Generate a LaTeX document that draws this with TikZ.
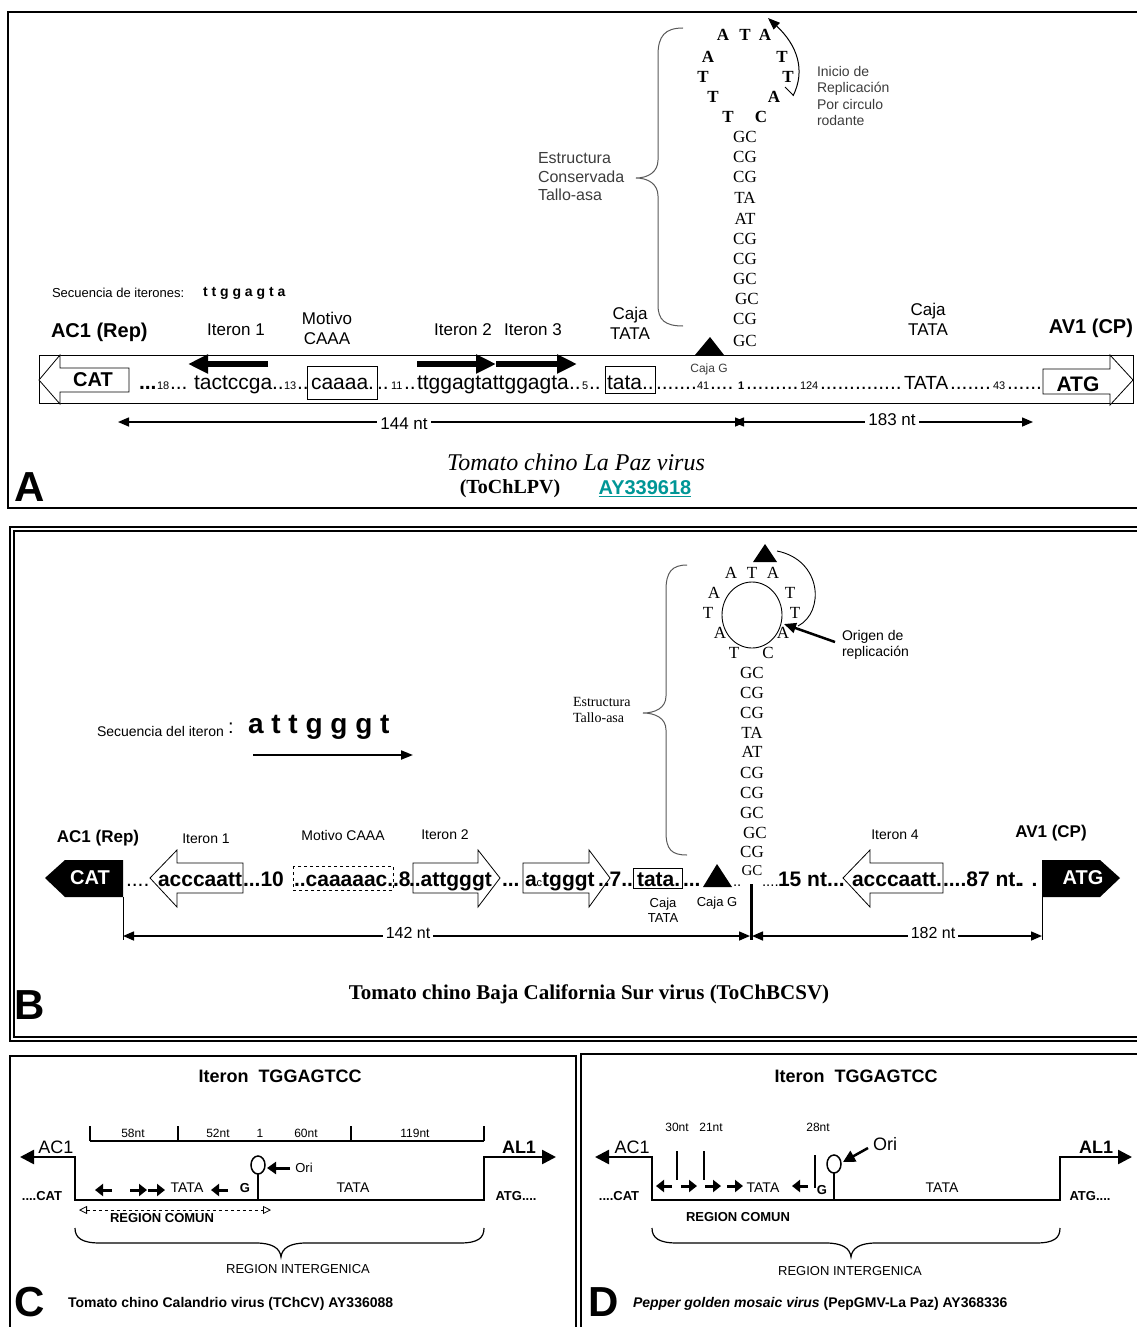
\documentclass[tikz,border=0pt]{standalone}
\usepackage{fontspec}
\setmainfont{Liberation Sans}
\newfontfamily\tms{Liberation Serif}
\usetikzlibrary{arrows.meta}
\newcommand\fsz[2]{\fontsize{#1}{#2}\selectfont}
\definecolor{teal1}{RGB}{0,150,150}
\definecolor{dgray}{RGB}{60,60,60}
\begin{document}
\begin{tikzpicture}[x=1pt,y=-1pt,
 t/.style={inner sep=0pt,outer sep=0pt},
 bw/.style={t,anchor=base west},
 rA/.style={bw,font=\fsz{21}{24}},
 nA/.style={bw,font=\fsz{11}{13}},
 rB/.style={bw,font=\fsz{21}{24}\bfseries},
 lA/.style={t,font=\fsz{17}{20},align=center},
 lB/.style={t,font=\fsz{14}{16}},
 stA/.style={t,font=\tms\fsz{17}{20}},
 lpA/.style={t,font=\tms\bfseries\fsz{17}{20}},
 stB/.style={t,font=\tms\fsz{17}{20}},
 brc/.style={draw=black!65,line width=1},
 openarr/.style={draw=black,fill=white,line width=0.8},
 thickarr/.style={line width=6,-{Triangle[length=20pt,width=18pt]}},
 dim/.style={line width=1.5,{Triangle[length=11pt,width=9pt]}-{Triangle[length=11pt,width=9pt]}},
 dimlbl/.style={t,fill=white,inner xsep=3pt,inner ysep=1pt},
 mainln/.style={line width=2.5,{Triangle[length=14pt,width=14pt]}-{Triangle[length=14pt,width=14pt]}},
 sarr/.style={line width=3,-{Triangle[length=8pt,width=12pt]}},
 cl/.style={t,font=\fsz{13}{15}},
 clb/.style={t,font=\fsz{13}{15}\bfseries},
 big/.style={t,font=\fsz{42}{46}\bfseries},
]
\useasboundingbox (0,0) rectangle (1136,1327);
% ================= frames
\draw[line width=2] (8,12) rectangle (1145,508);
\draw[line width=1.3] (10,527) rectangle (1145,1041);
\draw[line width=1.3] (14,531) rectangle (1145,1037);
\draw[line width=2] (10,1056) rectangle (576,1340);
\draw[line width=2] (581,1054) rectangle (1145,1340);

% ================= PANEL A
\node[t,font=\fsz{13}{15},anchor=west] (secA) at (52,293) {Secuencia de iterones:};
\node[t,font=\fsz{14}{16}\bfseries,anchor=west] (seqA) at (203,293) {t t g g a g t a};
\node[t,font=\fsz{20}{24}\bfseries,anchor=west] (ac1A) at (51,332) {AC1 (Rep)};
\node[lA] (it1A) at (236,330) {Iteron 1};
\node[lA] (motA) at (327,328) {Motivo\\CAAA};
\node[lA] (it2A) at (463,330) {Iteron 2};
\node[lA] (it3A) at (533,330) {Iteron 3};
\node[lA] (cjA1) at (630,323) {Caja\\TATA};
\node[lA] (cjA2) at (928,319) {Caja\\TATA};
\node[t,font=\fsz{20}{24}\bfseries,anchor=east] (av1A) at (1133,328) {AV1 (CP)};

% band
\draw[line width=1] (39,355) rectangle (1133,403);
\draw[openarr] (39,380) -- (60,355) -- (60,368) -- (129,368) -- (129,392) -- (60,392) -- (60,404) -- cycle;
\node[t,font=\fsz{20}{24}\bfseries] (catA) at (93,380) {CAT};

% row text A
\node[rA,font=\fsz{21}{24}\bfseries] (a01) at (139,389) {...};
\node[nA] (a02) at (157,389) {18};
\node[rA] (a03) at (170,389) {...};
\node[rA] (a04) at (194,389) {tactccga};
\node[rA] (a05) at (272,389) {..};
\node[nA] (a06) at (284,389) {13};
\node[rA] (a07) at (297,389) {..};
\draw[line width=0.8] (307,366) rectangle (377,399);
\node[rA] (a08) at (311,389) {caaaa.};
\node[rA] (a09) at (377,389) {..};
\node[nA] (a10) at (391,389) {11};
\node[rA] (a11) at (404,389) {..};
\node[rA] (a12) at (417,389) {ttggagtattggagta};
\node[rA] (a13) at (569,389) {..};
\node[nA] (a14) at (582,389) {5};
\node[rA] (a15) at (589,389) {..};
\draw[line width=0.8] (605,366) rectangle (655,393);
\node[rA] (a16) at (607,389) {tata..};
\node[rA] (a17) at (656,389) {.......};
\node[nA] (a18) at (697,389) {41};
\node[rA] (a19) at (710,389) {....};
\node[nA,font=\fsz{11}{13}\bfseries] (a20) at (738,389) {1};
\node[rA] (a21) at (746,389) {.........};
\node[nA] (a22) at (800,389) {124};
\node[rA] (a23) at (820,389) {..............};
\node[rA,font=\fsz{19}{22}] (a24) at (904,389) {TATA};
\node[rA] (a25) at (950,389) {.......};
\node[nA] (a26) at (993,389) {43};
\node[rA] (a27) at (1007,389) {......};
\node[t,font=\fsz{12}{14},text=dgray] (cjg) at (709,369) {Caja G};

\draw[openarr] (1043,369) -- (1110,369) -- (1110,355) -- (1133,380) -- (1110,405) -- (1110,394) -- (1043,394) -- cycle;
\node[t,font=\fsz{21}{24}\bfseries] (atgA) at (1078,384) {ATG};

% iteron arrows A
\draw[thickarr] (268,364) -- (188,364);
\draw[thickarr] (417,364) -- (496,364);
\draw[thickarr] (496,364) -- (577,364);

% triangle A
\fill (695,355) -- (724,355) -- (710,337) -- cycle;

% stem-loop A
\node[lpA] at (723,35) {A};
\node[lpA] at (745,35) {T};
\node[lpA] at (765,35) {A};
\node[lpA] at (708,57) {A};
\node[lpA] at (782,57) {T};
\node[lpA] at (703,77) {T};
\node[lpA] at (788,77) {T};
\node[lpA] at (713,97) {T};
\node[lpA] at (774,97) {A};
\node[lpA] at (728,117) {T};
\node[lpA] at (761,117) {C};
\node[stA] at (745,137) {GC};
\node[stA] at (745,157) {CG};
\node[stA] at (745,177) {CG};
\node[stA] at (745,198) {TA};
\node[stA] at (745,219) {AT};
\node[stA] at (745,239) {CG};
\node[stA] at (745,259) {CG};
\node[stA] at (745,279) {GC};
\node[stA] at (747,299) {GC};
\node[stA] at (745,319) {CG};
\node[stA] at (745,341) {GC};
\draw[line width=1,-{Triangle[length=12pt,width=9pt]}] (793,96) .. controls (806,70) and (797,45) .. (768,18);
\draw[line width=0.8] (785,87) -- (793,95);
\node[t,font=\fsz{14}{16.3},align=left,anchor=west,text=dgray] (iniA) at (817,96) {Inicio de\\Replicación\\Por circulo\\rodante};
\draw[brc] (683,28) .. controls (665,28) and (658,36) .. (658,55) -- (658,160) .. controls (658,172) and (648,178) .. (636,178) .. controls (648,178) and (658,184) .. (658,196) -- (658,305) .. controls (658,320) and (665,326) .. (683,326);
\node[t,font=\fsz{16}{18.5},align=left,anchor=west,text=dgray] (estA) at (538,177) {Estructura\\Conservada\\Tallo-asa};

% dimensions A
\draw[dim] (118,422) -- (746,422);
\draw[dim] (733,422) -- (1033,422);
\node[dimlbl,font=\fsz{17}{20}] (d144) at (404,424) {144 nt};
\node[dimlbl,font=\fsz{17}{20}] (d183) at (892,420) {183 nt};

% title A
\node[t,font=\tms\itshape\fsz{24}{28}] (titA) at (576,462) {Tomato chino La Paz virus};
\node[t,font=\tms\bfseries\fsz{20}{24}] (abbA) at (510,489) {(ToChLPV)};
\node[t,font=\fsz{20}{24}\bfseries,text=teal1] (accA) at (645,489) {\underline{AY339618}};
\node[big] (labA) at (30,487) {A};

% ================= PANEL B
\node[t,font=\fsz{14}{16},anchor=west] (secB) at (97,731) {Secuencia del iteron};
\node[t,font=\fsz{20}{22},anchor=west] (colB) at (228,728) {:};
\node[t,font=\fsz{28}{30}\bfseries,anchor=west] (seqB) at (248,727) {a t t g g g t};
\draw[line width=2,-{Triangle[length=12pt,width=9pt]}] (253,755) -- (413,755);

\node[t,font=\fsz{17}{20}\bfseries] (ac1B) at (98,838) {AC1 (Rep)};
\node[lB] (it1B) at (206,839) {Iteron 1};
\node[lB] (motB) at (343,835) {Motivo CAAA};
\node[lB] (it2B) at (445,835) {Iteron 2};
\node[lB] (it4B) at (895,835) {Iteron 4};
\node[t,font=\fsz{17}{20}\bfseries] (av1B) at (1051,833) {AV1 (CP)};

% black gene arrows
\fill (45,878) -- (65,860) -- (123,860) -- (123,897) -- (65,897) -- cycle;
\node[t,font=\fsz{20}{24}\bfseries,text=white] (catB) at (90,878) {CAT};
\fill (1042,860) -- (1100,860) -- (1120,878) -- (1100,897) -- (1042,897) -- cycle;
\node[t,font=\fsz{20}{24}\bfseries,text=white] (atgB) at (1083,878) {ATG};
\draw[line width=1] (123,897) -- (123,940);
\draw[line width=1] (1042,897) -- (1042,940);

% open iteron arrows
\draw[openarr] (150,878) -- (177,850) -- (177,863) -- (243,863) -- (243,893) -- (177,893) -- (177,907) -- cycle;
\draw[openarr] (413,863) -- (478,863) -- (478,850) -- (500,878) -- (478,907) -- (478,893) -- (413,893) -- cycle;
\draw[openarr] (523,863) -- (589,863) -- (589,850) -- (610,878) -- (589,907) -- (589,893) -- (523,893) -- cycle;
\draw[openarr] (843,878) -- (870,850) -- (870,863) -- (943,863) -- (943,893) -- (870,893) -- (870,907) -- cycle;
\draw[line width=0.8,dashed] (293,866) rectangle (393,890);
\draw[line width=0.8] (633,868) rectangle (682,888);

% row text B
\node[bw,font=\fsz{21}{24}] (b01) at (126,886) {....};
\node[rB] (b02) at (158,886) {acccaatt};
\node[rB] (b03) at (243,886) {...10};
\node[rB] (b05) at (294,886) {..caaaaac.};
\node[rB] (b06) at (393,886) {.8};
\node[rB] (b07) at (409,886) {..attgggt};
\node[rB] (b08) at (502,886) {...};
\node[rB] (b09) at (525,886) {a{\fsz{11}{13}\mdseries c}tgggt};
\node[rB] (b10) at (598,886) {..7..};
\node[rB] (b11) at (637,886) {tata.};
\node[rB] (b12) at (683,886) {...};
\fill (703,887) -- (732,887) -- (717,864) -- cycle;
\node[bw,font=\fsz{15}{17}] (b13) at (733,886) {..};
\node[bw,font=\fsz{15}{17}] (b13b) at (762,886) {....};
\node[rB] (b14) at (778,886) {15 nt.};
\node[rB] (b15) at (833,886) {..};
\node[rB] (b16) at (852,886) {acccaatt.};
\node[rB] (b17) at (943,886) {....87 nt.};
\node[rB] (b18) at (1018,886) {. .};
\node[t,font=\fsz{13}{15},align=center] (cjB1) at (663,910) {Caja\\TATA};
\node[t,font=\fsz{13}{15}] (cjB2) at (717,903) {Caja G};

\draw[line width=3] (751,884) -- (751,940);
\draw[dim] (123,936) -- (750,936);
\draw[dim] (752,936) -- (1042,936);
\node[dimlbl,font=\fsz{16}{18}] (d142) at (408,933) {142 nt};
\node[dimlbl,font=\fsz{16}{18}] (d182) at (933,933) {182 nt};

% stem-loop B
\fill (753,562) -- (777,562) -- (765,544) -- cycle;
\draw[line width=0.9] (777,551) .. controls (822,560) and (825,612) .. (798,626);
\draw[line width=0.9] (752,615) ellipse [x radius=30, y radius=33];
\node[stB] at (731,573) {A};
\node[stB] at (752,573) {T};
\node[stB] at (773,573) {A};
\node[stB] at (714,593) {A};
\node[stB] at (790,593) {T};
\node[stB] at (708,613) {T};
\node[stB] at (795,613) {T};
\node[stB] at (720,633) {A};
\node[stB] at (783,633) {A};
\node[stB] at (734,653) {T};
\node[stB] at (768,653) {C};
\node[stB] at (752,673) {GC};
\node[stB] at (752,693) {CG};
\node[stB] at (752,713) {CG};
\node[stB] at (752,733) {TA};
\node[stB] at (752,752) {AT};
\node[stB] at (752,773) {CG};
\node[stB] at (752,793) {CG};
\node[stB] at (752,813) {GC};
\node[stB] at (755,833) {GC};
\node[stB] at (752,852) {CG};
\node[stB,font=\tms\fsz{15}{17}] at (752,871) {GC};
\draw[line width=2.5,-{Triangle[length=12pt,width=10pt]}] (835,642) -- (784,624);
\node[t,font=\fsz{14}{16.3},align=left,anchor=west] (oriB) at (842,645) {Origen de\\replicación};
\draw[brc] (687,565) .. controls (672,565) and (666,572) .. (666,590) -- (666,696) .. controls (666,708) and (655,713) .. (643,713) .. controls (655,713) and (666,718) .. (666,730) -- (666,832) .. controls (666,850) and (672,855) .. (687,855);
\node[t,font=\tms\fsz{14}{16.5},align=left,anchor=west] (estB) at (573,710) {Estructura\\Tallo-asa};

\node[t,font=\tms\bfseries\fsz{21}{24}] (titB) at (589,994) {Tomato chino Baja California Sur virus (ToChBCSV)};
\node[big] (labB) at (30,1005) {B};

% ================= PANEL C
\node[t,font=\fsz{18}{20}\bfseries] (itC) at (280,1076) {Iteron\ \ TGGAGTCC};
\draw[line width=1.2] (90,1141) -- (484,1141);
\foreach \xx in {90,178,351,484} \draw[line width=1.2] (\xx,1141) -- (\xx,1126);
\node[t,font=\fsz{12}{14}] at (133,1133) {58nt};
\node[t,font=\fsz{12}{14}] at (218,1133) {52nt};
\node[t,font=\fsz{12}{14}] at (260,1133) {1};
\node[t,font=\fsz{12}{14}] at (306,1133) {60nt};
\node[t,font=\fsz{12}{14}] at (415,1133) {119nt};
\draw[mainln] (20,1157) -- (75,1157) -- (75,1200) -- (484,1200) -- (484,1157) -- (556,1157);
\node[t,font=\fsz{18}{20}] (ac1C) at (56,1147) {AC1};
\node[t,font=\fsz{18}{20}\bfseries] (al1C) at (519,1147) {AL1};
\node[clb] (catC) at (42,1196) {....CAT};
\node[clb] (atgC) at (516,1196) {ATG....};
\draw[line width=1.5] (258,1200) -- (258,1174);
\draw[line width=1.5,fill=white] (258,1165) ellipse [x radius=7, y radius=9];
\draw[line width=3,-{Triangle[length=9pt,width=12pt]}] (290,1168) -- (267,1168);
\node[cl] (oriC) at (304,1168) {Ori};
\draw[sarr] (112,1190) -- (95,1190);
\draw[sarr] (130,1190) -- (147,1190);
\draw[sarr] (148,1190) -- (165,1190);
\node[t,font=\fsz{14}{16}] at (187,1188) {TATA};
\draw[sarr] (228,1190) -- (211,1190);
\node[clb] at (245,1188) {G};
\node[t,font=\fsz{14}{16}] at (353,1188) {TATA};
\draw[line width=0.8,dashed,{Triangle[open,length=8pt,width=8pt]}-{Triangle[open,length=8pt,width=8pt]}] (79,1210) -- (271,1210);
\node[clb] (rcC) at (162,1218) {REGION COMUN};
\draw[line width=1.2] (75,1228) .. controls (75,1238) and (82,1243) .. (100,1243) -- (256,1243) .. controls (272,1243) and (280,1248) .. (281,1257) .. controls (282,1248) and (290,1243) .. (306,1243) -- (460,1243) .. controls (478,1243) and (484,1238) .. (484,1228);
\node[cl] (riC) at (298,1269) {REGION INTERGENICA};
\node[big] (labC) at (30,1302) {C};
\node[t,font=\fsz{14}{16}\bfseries,anchor=west] (titC) at (68,1304) {Tomato chino Calandrio virus (TChCV) AY336088};

% ================= PANEL D
\node[t,font=\fsz{18}{20}\bfseries] (itD) at (856,1076) {Iteron\ \ TGGAGTCC};
\node[t,font=\fsz{12}{14}] at (677,1127) {30nt};
\node[t,font=\fsz{12}{14}] at (711,1127) {21nt};
\node[t,font=\fsz{12}{14}] at (818,1127) {28nt};
\draw[line width=1.5] (677,1151) -- (677,1180);
\draw[line width=1.5] (704,1151) -- (704,1180);
\draw[line width=1.5] (815,1155) -- (815,1188);
\draw[mainln] (595,1157) -- (652,1157) -- (652,1200) -- (1060,1200) -- (1060,1157) -- (1132,1157);
\node[t,font=\fsz{18}{20}] (ac1D) at (632,1147) {AC1};
\node[t,font=\fsz{18}{20}\bfseries] (al1D) at (1096,1147) {AL1};
\node[clb] (catD) at (619,1196) {....CAT};
\node[clb] (atgD) at (1090,1196) {ATG....};
\draw[line width=1.5] (834,1200) -- (834,1173);
\draw[line width=1.5,fill=white] (834,1164) ellipse [x radius=7, y radius=9];
\draw[line width=2.5,-{Triangle[length=12pt,width=12pt]}] (868,1148) -- (843,1162);
\node[t,font=\fsz{18}{20}] (oriD) at (885,1144) {Ori};
\draw[sarr] (672,1186) -- (656,1186);
\draw[sarr] (681,1186) -- (697,1186);
\draw[sarr] (705,1186) -- (721,1186);
\draw[sarr] (727,1186) -- (743,1186);
\node[t,font=\fsz{14}{16}] at (763,1188) {TATA};
\draw[sarr] (808,1186) -- (792,1186);
\node[clb] at (822,1190) {G};
\node[t,font=\fsz{14}{16}] at (942,1188) {TATA};
\node[clb] (rcD) at (738,1217) {REGION COMUN};
\draw[line width=1.2] (652,1228) .. controls (652,1238) and (659,1243) .. (677,1243) -- (826,1243) .. controls (842,1243) and (850,1248) .. (851,1257) .. controls (852,1248) and (860,1243) .. (876,1243) -- (1036,1243) .. controls (1054,1243) and (1060,1238) .. (1060,1228);
\node[cl] (riD) at (850,1271) {REGION INTERGENICA};
\node[big] (labD) at (604,1302) {D};
\node[t,font=\fsz{14}{16}\bfseries,anchor=west] (titD) at (633,1304) {\itshape Pepper golden mosaic virus\upshape{} (PepGMV-La Paz) AY368336};
\end{tikzpicture}
\end{document}
